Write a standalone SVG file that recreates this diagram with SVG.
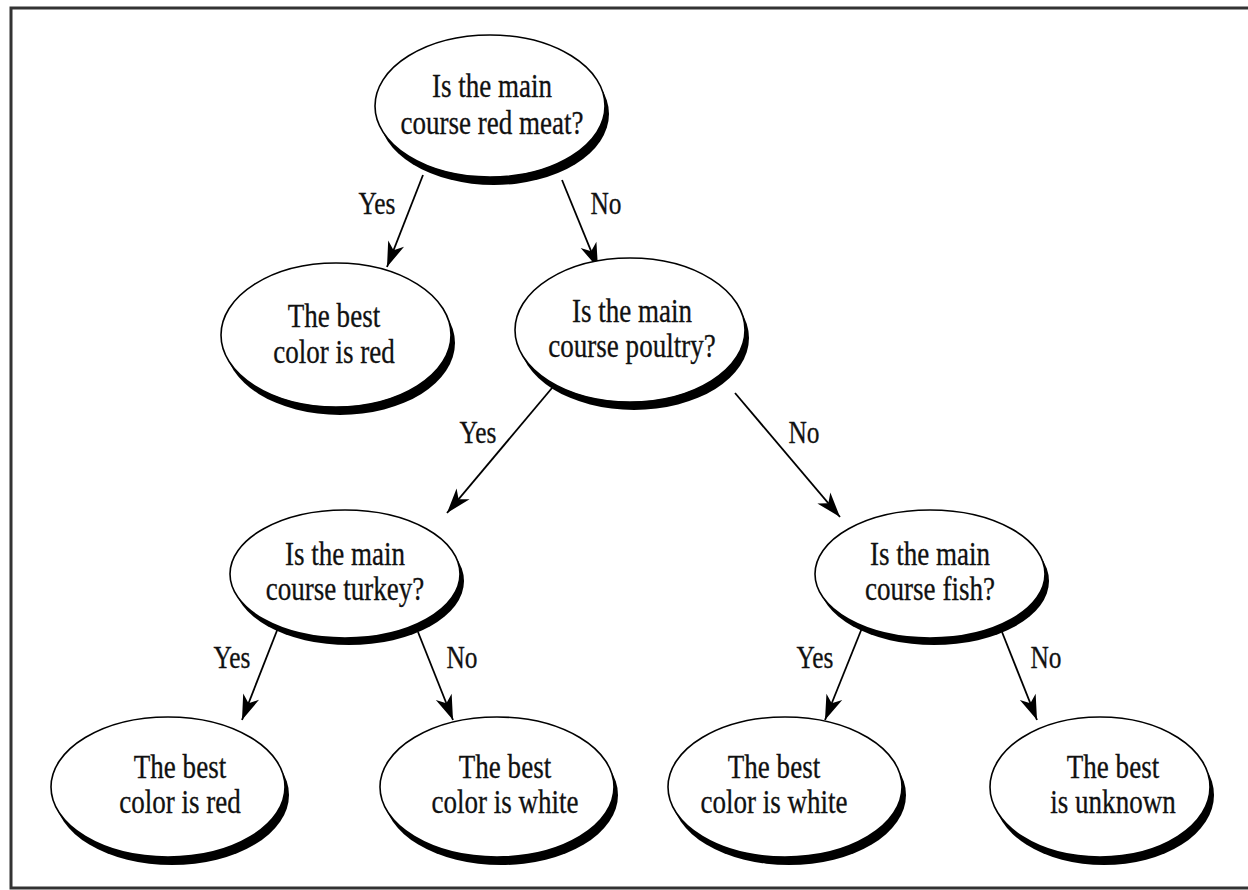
<svg xmlns="http://www.w3.org/2000/svg" width="1248" height="890" viewBox="0 0 1248 890">
<style>
.shadow{fill:#000}
.node{fill:#fff;stroke:#000;stroke-width:1.6}
.t{font-family:"Liberation Serif","Times New Roman",serif;font-size:33px;fill:#111;stroke:#111;stroke-width:0.3;text-anchor:middle}
.lbl{font-family:"Liberation Serif","Times New Roman",serif;font-size:31px;fill:#111;stroke:#111;stroke-width:0.3;text-anchor:middle}
.edge{stroke:#000;stroke-width:1.8;fill:none}
</style>
<defs>
<marker id="arr" markerUnits="userSpaceOnUse" markerWidth="28" markerHeight="20" viewBox="-26 -10 28 20" refX="0" refY="0" orient="auto">
<path d="M0,0 L-25,-8.5 L-18,0 L-25,8.5 Z" fill="#000"/>
</marker>
</defs>
<rect x="11" y="8" width="1250" height="880" fill="#fff" stroke="#333" stroke-width="3"/>

<g id="connectors">
<line class="edge" x1="423" y1="175" x2="387" y2="267" marker-end="url(#arr)"/>
<line class="edge" x1="562" y1="180" x2="598" y2="268" marker-end="url(#arr)"/>
<line class="edge" x1="552" y1="388" x2="447" y2="513" marker-end="url(#arr)"/>
<line class="edge" x1="735" y1="393" x2="840" y2="517" marker-end="url(#arr)"/>
<line class="edge" x1="278" y1="628" x2="242" y2="720" marker-end="url(#arr)"/>
<line class="edge" x1="418" y1="632" x2="453" y2="720" marker-end="url(#arr)"/>
<line class="edge" x1="862" y1="628" x2="825" y2="720" marker-end="url(#arr)"/>
<line class="edge" x1="1002" y1="632" x2="1037" y2="720" marker-end="url(#arr)"/>
<text class="lbl" transform="translate(377,214) scale(0.82,1)">Yes</text>
<text class="lbl" transform="translate(606,214) scale(0.82,1)">No</text>
<text class="lbl" transform="translate(478,443) scale(0.82,1)">Yes</text>
<text class="lbl" transform="translate(804,443) scale(0.82,1)">No</text>
<text class="lbl" transform="translate(232,668) scale(0.82,1)">Yes</text>
<text class="lbl" transform="translate(462,668) scale(0.82,1)">No</text>
<text class="lbl" transform="translate(815,668) scale(0.82,1)">Yes</text>
<text class="lbl" transform="translate(1046,668) scale(0.82,1)">No</text>
</g>

<g id="n-root">
<ellipse class="shadow" cx="494" cy="114" rx="115" ry="71"/>
<ellipse class="node" cx="490" cy="106" rx="115" ry="71"/>
<text class="t" transform="translate(492,97) scale(0.82,1)">Is the main</text>
<text class="t" transform="translate(492,134) scale(0.82,1)">course red meat?</text>
</g>

<g id="n-red1">
<ellipse class="shadow" cx="340" cy="343" rx="115" ry="72"/>
<ellipse class="node" cx="336" cy="335" rx="115" ry="72"/>
<text class="t" transform="translate(334,327) scale(0.82,1)">The best</text>
<text class="t" transform="translate(334,363) scale(0.82,1)">color is red</text>
</g>

<g id="n-poultry">
<ellipse class="shadow" cx="634" cy="338" rx="115" ry="72"/>
<ellipse class="node" cx="630" cy="330" rx="115" ry="72"/>
<text class="t" transform="translate(632,322) scale(0.82,1)">Is the main</text>
<text class="t" transform="translate(632,357) scale(0.82,1)">course poultry?</text>
</g>

<g id="n-turkey">
<ellipse class="shadow" cx="349" cy="581" rx="115" ry="64"/>
<ellipse class="node" cx="345" cy="574" rx="115" ry="64"/>
<text class="t" transform="translate(345,565) scale(0.82,1)">Is the main</text>
<text class="t" transform="translate(345,600) scale(0.82,1)">course turkey?</text>
</g>

<g id="n-fish">
<ellipse class="shadow" cx="934" cy="581" rx="115" ry="64"/>
<ellipse class="node" cx="930" cy="574" rx="115" ry="64"/>
<text class="t" transform="translate(930,565) scale(0.82,1)">Is the main</text>
<text class="t" transform="translate(930,600) scale(0.82,1)">course fish?</text>
</g>

<g id="n-red2">
<ellipse class="shadow" cx="172" cy="795" rx="117" ry="70"/>
<ellipse class="node" cx="168" cy="787" rx="117" ry="70"/>
<text class="t" transform="translate(180,778) scale(0.82,1)">The best</text>
<text class="t" transform="translate(180,813) scale(0.82,1)">color is red</text>
</g>

<g id="n-white1">
<ellipse class="shadow" cx="501" cy="795" rx="117" ry="70"/>
<ellipse class="node" cx="497" cy="787" rx="117" ry="70"/>
<text class="t" transform="translate(505,778) scale(0.82,1)">The best</text>
<text class="t" transform="translate(505,813) scale(0.82,1)">color is white</text>
</g>

<g id="n-white2">
<ellipse class="shadow" cx="789" cy="795" rx="117" ry="70"/>
<ellipse class="node" cx="785" cy="787" rx="117" ry="70"/>
<text class="t" transform="translate(774,778) scale(0.82,1)">The best</text>
<text class="t" transform="translate(774,813) scale(0.82,1)">color is white</text>
</g>

<g id="n-unknown">
<ellipse class="shadow" cx="1104" cy="795" rx="110" ry="70"/>
<ellipse class="node" cx="1100" cy="787" rx="110" ry="70"/>
<text class="t" transform="translate(1113,778) scale(0.82,1)">The best</text>
<text class="t" transform="translate(1113,813) scale(0.82,1)">is unknown</text>
</g>
</svg>
